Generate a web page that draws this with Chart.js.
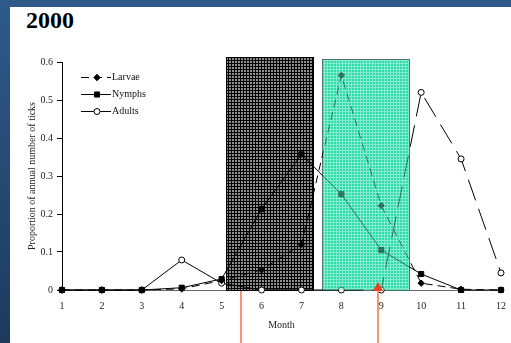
<!DOCTYPE html>
<html>
<head>
<meta charset="utf-8">
<script src="https://cdn.jsdelivr.net/npm/chart.js@4.4.1/dist/chart.umd.min.js"></script>
<style>
  html, body { margin: 0; padding: 0; }
  body {
    width: 511px; height: 343px; overflow: hidden; position: relative;
    background: linear-gradient(#2e5b8a, #1d3a5d);
  }
  #panel { position: absolute; left: 10px; top: 7px; right: 0; bottom: 0; background: #fff; }
  #title {
    position: absolute; left: 26px; top: 7px;
    font: bold 24px "Liberation Serif", serif; color: #000;
  }
  #c { position: absolute; left: 0; top: 0; }
</style>
</head>
<body>
<div id="panel"></div>
<div id="title">2000</div>
<canvas id="c" width="511" height="343"></canvas>
<script>
const months = [1, 2, 3, 4, 5, 6, 7, 8, 9, 10, 11, 12];
const larvae = [0, 0, 0, 0.003, 0.025, 0.053, 0.12, 0.565, 0.222, 0.018, 0.002, 0];
const nymphs = [0, 0, 0, 0.006, 0.029, 0.213, 0.357, 0.252, 0.105, 0.042, 0, 0];
const adults = [0, 0, 0, 0.079, 0.018, 0, 0, 0, 0, 0.52, 0.345, 0.045];
const yTicks = [0, 0.1, 0.2, 0.3, 0.4, 0.5, 0.6];

// shaded periods (month range + top) and arrow marks
const darkPeriod = [5.1, 7.31, 0.613];
const tealPeriod = [7.51, 9.72, 0.608];
const arrowMonths = [5.49, 8.91];

const SERIF = '"Liberation Serif", "DejaVu Serif", serif';

const toXY = (vals) => vals.map((v, i) => ({ x: months[i], y: v }));

function makePattern(ctx, bg, line) {
    const p = document.createElement('canvas');
    p.width = 3; p.height = 3;
    const c = p.getContext('2d');
    c.fillStyle = bg;
    c.fillRect(0, 0, 3, 3);
    c.fillStyle = line;
    c.fillRect(0, 0, 3, 1);
    c.fillRect(0, 0, 1, 3);
    return ctx.createPattern(p, 'repeat');
}

function boxRect(chart, r) {
    const { x, y } = chart.scales;
    const x0 = Math.round(x.getPixelForValue(r[0]));
    const x1 = Math.round(x.getPixelForValue(r[1]));
    const top = Math.round(y.getPixelForValue(r[2]));
    const base = Math.round(y.getPixelForValue(0));
    return { x0, x1, top, base };
}

const boxes = [
    { r: darkPeriod, bg: '#8e8e8e', line: '#000', border: '#000', tint: 0 },
    { r: tealPeriod, bg: '#2fdcaa', line: '#86ecce', border: '#4f7469', tint: 0.5 }
];

const shading = {
    id: 'shading',
    beforeDatasetsDraw(chart) {
        const ctx = chart.ctx;
        boxes.forEach(b => {
            const { x0, x1, top, base } = boxRect(chart, b.r);
            ctx.save();
            ctx.fillStyle = makePattern(ctx, b.bg, b.line);
            ctx.fillRect(x0, top, x1 - x0, base - top);
            ctx.strokeStyle = b.border;
            ctx.lineWidth = 1;
            ctx.strokeRect(x0 + 0.5, top + 0.5, x1 - x0 - 1, base - top);
            ctx.restore();
        });
    },
    afterDatasetsDraw(chart) {
        // tint the lines running through the teal period
        const ctx = chart.ctx;
        boxes.filter(b => b.tint > 0).forEach(b => {
            const { x0, x1, top, base } = boxRect(chart, b.r);
            ctx.save();
            ctx.globalAlpha = b.tint;
            ctx.fillStyle = makePattern(ctx, b.bg, b.line);
            ctx.fillRect(x0 + 1, top + 1, x1 - x0 - 2, base - top - 1);
            ctx.restore();
        });
    },
    afterDraw(chart) {
        const { ctx, scales: { x, y } } = chart;
        const base = y.getPixelForValue(0);
        ctx.save();
        // arrows
        ctx.strokeStyle = '#f7937c';
        ctx.lineWidth = 2;
        arrowMonths.forEach((m, i) => {
            const px = Math.round(x.getPixelForValue(m));
            ctx.beginPath();
            ctx.moveTo(px, chart.height);
            ctx.lineTo(px, i === 0 ? base + 1 : base - 2);
            ctx.stroke();
            if (i === 1) {
                ctx.fillStyle = '#f2401e';
                ctx.beginPath();
                ctx.moveTo(px, base - 8);
                ctx.lineTo(px - 5, base + 1);
                ctx.lineTo(px + 5, base + 1);
                ctx.closePath();
                ctx.fill();
            }
        });

        // legend
        const rows = [77, 94, 111];
        ctx.font = '10px ' + SERIF;
        ctx.textBaseline = 'middle';
        chart.data.datasets.forEach((ds, i) => {
            const yy = rows[i] + 0.5;
            ctx.strokeStyle = '#000';
            ctx.lineWidth = 1;
            ctx.setLineDash(ds.borderDash || []);
            ctx.beginPath();
            ctx.moveTo(81, yy);
            ctx.lineTo(111, yy);
            ctx.stroke();
            ctx.setLineDash([]);
            ctx.fillStyle = ds.pointBackgroundColor;
            ctx.strokeStyle = '#000';
            Chart.helpers.drawPoint(ctx, {
                pointStyle: ds.pointStyle, radius: ds.pointRadius, rotation: 0, borderWidth: 1
            }, 97, yy);
            ctx.fillStyle = '#111';
            ctx.fillText(ds.label, 112, yy);
        });
        ctx.restore();
    }
};

new Chart(document.getElementById('c'), {
    type: 'line',
    data: {
        datasets: [
            {
                label: 'Larvae',
                data: toXY(larvae),
                borderColor: '#000',
                borderWidth: 1,
                borderDash: [8, 5],
                pointStyle: 'rectRot',
                pointRadius: 3.2,
                pointBackgroundColor: '#000',
                pointBorderColor: '#000',
                clip: false,
                tension: 0
            },
            {
                label: 'Nymphs',
                data: toXY(nymphs),
                borderColor: '#000',
                borderWidth: 1,
                pointStyle: 'rect',
                pointRadius: 3.6,
                pointBackgroundColor: '#000',
                pointBorderColor: '#000',
                clip: false,
                tension: 0
            },
            {
                label: 'Adults',
                data: toXY(adults),
                borderColor: '#000',
                borderWidth: 1,
                pointStyle: 'circle',
                pointRadius: 3,
                pointBackgroundColor: '#fff',
                pointBorderColor: '#000',
                segment: {
                    borderDash: (ctx) => ctx.p0.parsed.x >= 8 ? [22, 9] : undefined
                },
                clip: false,
                tension: 0
            }
        ]
    },
    options: {
        responsive: false,
        animation: false,
        layout: { padding: { left: 0, top: 62, right: 10, bottom: 0 } },
        plugins: {
            legend: { display: false },
            tooltip: { enabled: false }
        },
        scales: {
            x: {
                type: 'linear',
                min: 1,
                max: 12,
                afterFit: (s) => { s.height = 53; s.paddingLeft = 0; s.paddingRight = 0; },
                ticks: {
                    stepSize: 1,
                    padding: 10,
                    color: '#222',
                    font: { family: SERIF, size: 10 }
                },
                grid: { drawOnChartArea: false, drawTicks: false },
                border: { color: '#666' },
                title: {
                    display: true,
                    text: 'Month',
                    color: '#222',
                    font: { family: SERIF, size: 10 },
                    padding: { top: 0, bottom: 12 }
                }
            },
            y: {
                min: 0,
                max: 0.6,
                afterFit: (s) => { s.width = 62; s.paddingTop = 0; s.paddingBottom = 0; },
                afterBuildTicks: (s) => { s.ticks = yTicks.map(v => ({ value: v })); },
                ticks: {
                    padding: 4,
                    color: '#222',
                    font: { family: SERIF, size: 10 }
                },
                grid: { drawOnChartArea: false, tickLength: 5, color: '#000' },
                border: { color: '#000' },
                title: {
                    display: true,
                    text: 'Proportion of annual number of ticks',
                    color: '#222',
                    font: { family: SERIF, size: 10 },
                    padding: { top: 26, bottom: 0 }
                }
            }
        }
    },
    plugins: [shading]
});
</script>
</body>
</html>
